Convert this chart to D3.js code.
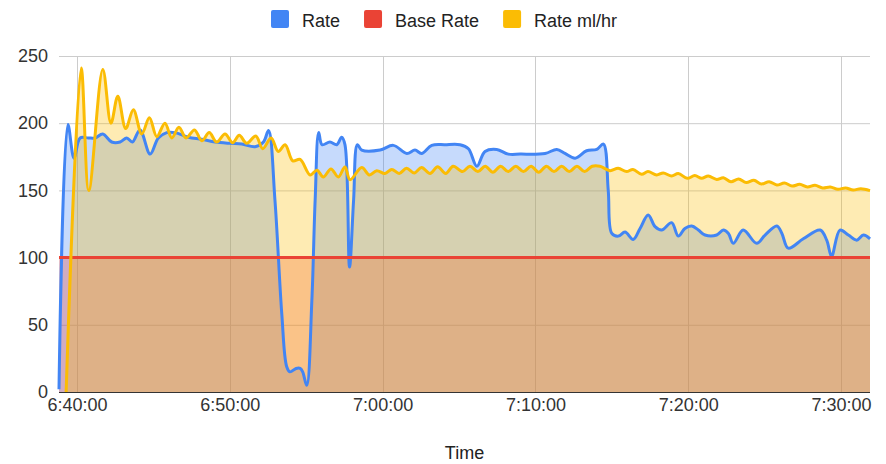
<!DOCTYPE html>
<html><head><meta charset="utf-8">
<script src="https://cdn.jsdelivr.net/npm/d3@7"></script>
<style>html,body{margin:0;padding:0;background:#fff;}svg{display:block;font-family:"Liberation Sans",Arial,sans-serif;}</style>
</head><body>
<svg id="chart" width="886" height="464"></svg>
<script>
const seriesNames = ["Rate", "Base Rate", "Rate ml/hr"];
const seriesColors = ["#4285F4", "#EA4335", "#FBBC04"];
const timeTicks = ["6:40:00","6:50:00","7:00:00","7:10:00","7:20:00","7:30:00"];
const yTicks = [0, 50, 100, 150, 200, 250];

const rateTimes = ["6:38:49","6:39:24","6:39:48","6:40:12","6:40:44","6:41:11","6:41:41","6:42:16","6:42:49","6:43:15","6:43:37","6:44:07","6:44:47","6:45:19","6:45:52","6:46:25","6:47:17","6:48:10","6:49:02","6:50:01","6:50:47","6:51:39","6:52:12","6:52:32","6:52:57","6:53:24","6:53:43","6:53:56","6:54:20","6:54:36","6:54:46","6:55:02","6:55:22","6:55:35","6:55:49","6:56:02","6:56:33","6:57:00","6:57:19","6:57:32","6:57:50","6:58:06","6:58:21","6:58:38","6:59:50","7:00:42","7:01:35","7:02:07","7:02:33","7:03:13","7:04:05","7:05:04","7:05:37","7:06:10","7:06:42","7:07:28","7:08:14","7:09:00","7:10:38","7:11:24","7:11:56","7:12:36","7:13:21","7:14:01","7:14:27","7:14:46","7:15:00","7:15:26","7:15:52","7:16:24","7:16:51","7:17:23","7:17:50","7:18:16","7:18:55","7:19:21","7:19:47","7:20:14","7:20:40","7:21:06","7:21:52","7:22:18","7:22:38","7:22:57","7:23:36","7:24:29","7:25:02","7:25:48","7:26:08","7:26:33","7:27:32","7:28:38","7:29:04","7:29:23","7:29:56","7:30:29","7:31:02","7:31:28","7:31:54"];
const rateValues = [2,199,174,189,189,189,192,186,186,189,186,195,177,189,193,193,189.5,188,186,185,184.5,182.5,186,194.5,143,58,19,15,17.5,17.6,15,5,68,143,193,184,186,184,189.5,184,93,143,184,180,180,183.5,177.5,180,177.5,183.5,184,184,181,168,179,180.5,177,177,177.5,180.5,177.5,174,179.5,180.5,184.5,150,118,116,119,113.5,121.7,131.7,123,120.5,126,116,121.7,123.5,120.5,116.8,116.8,120.5,118,110.6,120.5,110.6,116.8,123.5,118,107,114,120.5,113,101,120.5,116.8,113,116.8,114];

const baseTimes = ["6:38:49","7:31:54"];
const baseValues = [100, 100];

const mlTimes = ["6:39:17","6:40:16","6:40:46","6:41:41","6:42:13","6:42:40","6:43:11","6:43:41","6:44:14","6:44:44","6:45:13","6:45:45","6:46:12","6:46:40","6:47:08","6:47:41","6:48:10","6:48:39","6:49:08","6:49:41","6:50:11","6:50:37","6:51:06","6:51:42","6:52:09","6:52:42","6:53:10","6:53:37","6:54:07","6:54:36","6:55:15","6:55:42","6:56:07","6:56:37","6:57:06","6:57:32","6:57:52","6:58:38","6:59:08","6:59:37","7:00:09","7:00:36","7:01:05","7:01:34","7:02:04","7:02:33","7:03:06","7:03:36","7:04:08","7:04:37","7:05:14","7:05:43","7:06:14","7:06:43","7:07:13","7:07:43","7:08:13","7:08:43","7:09:13","7:09:43","7:10:13","7:10:43","7:11:13","7:11:43","7:12:13","7:12:43","7:13:13","7:13:43","7:14:13","7:14:53","7:15:25","7:15:58","7:16:23","7:16:57","7:17:22","7:17:56","7:18:22","7:18:55","7:19:21","7:19:56","7:20:26","7:20:53","7:21:19","7:21:52","7:22:18","7:22:48","7:23:18","7:23:48","7:24:18","7:24:48","7:25:18","7:25:48","7:26:18","7:26:48","7:27:18","7:27:48","7:28:18","7:28:48","7:29:18","7:29:48","7:30:18","7:30:48","7:31:18","7:31:54"];
const mlValues = [0,241,150,240,200,220,196,210,192,204,190,200,189,197,189,195,187,193,186,192,185.5,191,185,190.5,181,189,179,184,172,173,161.5,165,160,166,160,167.5,158,167,161.5,164.7,162.6,165.6,162.6,166.4,163,167,162.6,167.6,162.6,168,164,168,164,168,163.5,168,164,168,164,168,163.5,168,164,168,164,168,164,168,168,164.7,166.4,164,165.6,162,164,161.5,163,160.7,162.6,159,161,159,160.7,158.2,159.4,156.5,158.5,155.8,157.5,154.8,156.5,154,155.5,153.2,154.5,152.5,153.8,151.8,152.5,150.8,151.8,150.3,151.2,149.8];

const parse = d3.timeParse("%H:%M:%S");
const fmt = d3.timeFormat("%-H:%M:%S");
const series = [
  {times: rateTimes, values: rateValues},
  {times: baseTimes, values: baseValues},
  {times: mlTimes, values: mlValues}
].map((s, i) => ({
  name: seriesNames[i], color: seriesColors[i],
  data: s.times.map((t, j) => ({t: parse(t), v: s.values[j]}))
}));

const svg = d3.select("#chart");
const pLeft = 59, pRight = 870, pTop = 56, pBottom = 392;
const allT = series.flatMap(s => s.data.map(d => d.t));
const x = d3.scaleTime().domain(d3.extent(allT)).range([pLeft, pRight]);
const y = d3.scaleLinear().domain([0, 250]).range([pBottom, pTop]);

// gridlines
const grid = svg.append("g");
grid.selectAll("line.h").data(yTicks.filter(v => v > 0)).join("line")
  .attr("x1", pLeft).attr("x2", pRight)
  .attr("y1", d => y(d) + 0.5).attr("y2", d => y(d) + 0.5)
  .attr("stroke", "#cccccc").attr("stroke-width", 1);
grid.selectAll("line.v").data(timeTicks.map(parse)).join("line")
  .attr("x1", d => Math.round(x(d)) + 0.5).attr("x2", d => Math.round(x(d)) + 0.5)
  .attr("y1", pTop).attr("y2", pBottom)
  .attr("stroke", "#cccccc").attr("stroke-width", 1);

const curve = d3.curveCatmullRom.alpha(0.5);
const area = d3.area().x(d => x(d.t)).y0(y(0)).y1(d => y(d.v)).curve(curve);
const line = d3.line().x(d => x(d.t)).y(d => y(d.v)).curve(curve);

svg.append("g").selectAll("path").data(series).join("path")
  .attr("d", d => area(d.data)).attr("fill", d => d.color).attr("fill-opacity", 0.3);

// baseline
svg.append("line").attr("x1", pLeft).attr("x2", pRight)
  .attr("y1", y(0) + 0.5).attr("y2", y(0) + 0.5).attr("stroke", "#333").attr("stroke-width", 1);

svg.append("g").selectAll("path").data(series).join("path")
  .attr("d", d => line(d.data)).attr("fill", "none").attr("stroke", d => d.color)
  .attr("stroke-width", 3).attr("stroke-linejoin", "round");

// axes
const yAxis = d3.axisLeft(y).tickValues(yTicks).tickSize(0).tickPadding(0);
const ya = svg.append("g").attr("transform", `translate(48,0)`).call(yAxis);
ya.select(".domain").remove();
ya.selectAll("text").attr("font-size", 18).attr("fill", "#333").attr("font-family", "Liberation Sans, Arial, sans-serif");

const xAxis = d3.axisBottom(x).tickValues(timeTicks.map(parse)).tickFormat(fmt).tickSize(0).tickPadding(0);
const xa = svg.append("g").attr("transform", `translate(0,398)`).call(xAxis);
xa.select(".domain").remove();
xa.selectAll("text").attr("font-size", 18).attr("fill", "#333").attr("font-family", "Liberation Sans, Arial, sans-serif");

svg.append("text").attr("x", (pLeft + pRight) / 2).attr("y", 459).attr("text-anchor", "middle")
  .attr("font-size", 18).attr("fill", "#222").text("Time");

// legend
const lg = svg.append("g");
let cx = 0;
series.forEach(s => {
  const g = lg.append("g");
  g.append("rect").attr("x", 0).attr("y", 10).attr("width", 18).attr("height", 18).attr("rx", 2).attr("fill", s.color);
  const t = g.append("text").attr("x", 31).attr("y", 26.5).attr("font-size", 18).attr("fill", "#222").text(s.name);
  const w = 31 + t.node().getComputedTextLength();
  g.attr("transform", `translate(${cx},0)`);
  cx += w + 24;
});
const totalW = cx - 24;
lg.attr("transform", `translate(${Math.round(444.5 - totalW / 2)},0)`);
</script>
</body></html>
